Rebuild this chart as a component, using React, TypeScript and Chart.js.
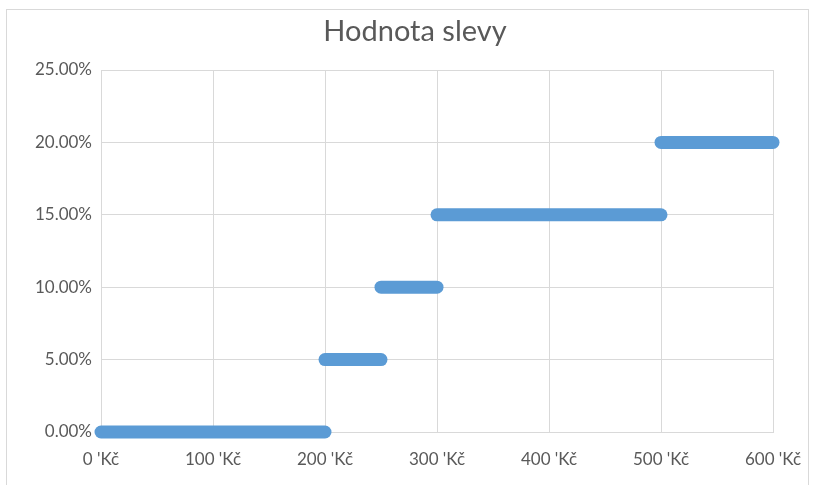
import React, { useEffect, useRef } from "react";
import { Chart, registerables } from "chart.js";

Chart.register(...registerables);

const title = "Hodnota slevy";
const segStartX = [0, 200, 250, 300, 500];
const segEndX = [200, 250, 300, 500, 600];
const segValue = [0, 0.05, 0.1, 0.15, 0.2];
const xTicks = [0, 100, 200, 300, 400, 500, 600];
const yTicks = [0, 0.05, 0.1, 0.15, 0.2, 0.25];

const lineColor = "#5b9bd5";
const textColor = "#595959";
const gridColor = "#d9d9d9";
const fontFamily = "Lato, 'Open Sans', sans-serif";

export default function App() {
  const ref = useRef<HTMLCanvasElement | null>(null);
  useEffect(() => {
    if (!ref.current) return;
    const datasets = segValue.map((v, i) => ({
      label: "s" + i,
      data: [
        { x: segStartX[i], y: v },
        { x: segEndX[i], y: v },
      ],
      showLine: true,
      borderColor: lineColor,
      backgroundColor: lineColor,
      borderWidth: 13,
      borderCapStyle: "round" as const,
      pointRadius: 0,
      pointHoverRadius: 0,
      clip: false as any,
    }));
    const chart = new Chart(ref.current, {
      type: "scatter",
      data: { datasets },
      options: {
        animation: false,
        responsive: false,
        maintainAspectRatio: false,
        layout: { padding: { left: 0, right: 41, top: 70, bottom: 0 } },
        plugins: {
          legend: { display: false },
          tooltip: { enabled: false },
          title: { display: false },
        },
        scales: {
          x: {
            type: "linear",
            min: 0,
            max: 600,
            afterBuildTicks: (s: any) => {
              s.ticks = xTicks.map((v) => ({ value: v }));
            },
            afterFit: (s: any) => {
              s.height = 53;
              s.paddingRight = 0;
              s.paddingLeft = 0;
            },
            grid: { color: gridColor, drawTicks: false },
            border: { display: true, color: gridColor },
            ticks: {
              color: textColor,
              padding: 17,
              maxRotation: 0,
              font: { family: fontFamily, size: 17 },
              callback: (v: any) => `${v} 'Kč`,
            },
          },
          y: {
            type: "linear",
            min: 0,
            max: 0.25,
            afterBuildTicks: (s: any) => {
              s.ticks = yTicks.map((v) => ({ value: v }));
            },
            afterFit: (s: any) => {
              s.width = 101;
            },
            grid: { color: gridColor, drawTicks: false },
            border: { display: false },
            ticks: {
              color: textColor,
              padding: 9,
              font: { family: fontFamily, size: 17 },
              callback: (v: any) => `${(Number(v) * 100).toFixed(2)}%`,
            },
          },
        },
      },
    });
    return () => chart.destroy();
  }, []);
  return (
    <div style={{ position: "fixed", left: 0, top: 0, width: 814, height: 485, background: "#fff" }}>
      <div
        style={{
          position: "absolute",
          left: 6,
          top: 9,
          width: 803,
          height: 480,
          border: "1px solid #d9d9d9",
          boxSizing: "border-box",
        }}
      />
      <canvas ref={ref} width={814} height={485} style={{ position: "absolute", left: 0, top: 0 }} />
      <div
        style={{
          position: "absolute",
          left: 215,
          width: 400,
          top: 12,
          textAlign: "center",
          fontFamily,
          fontSize: 29,
          lineHeight: "36px",
          color: textColor,
        }}
      >
        {title}
      </div>
    </div>
  );
}
